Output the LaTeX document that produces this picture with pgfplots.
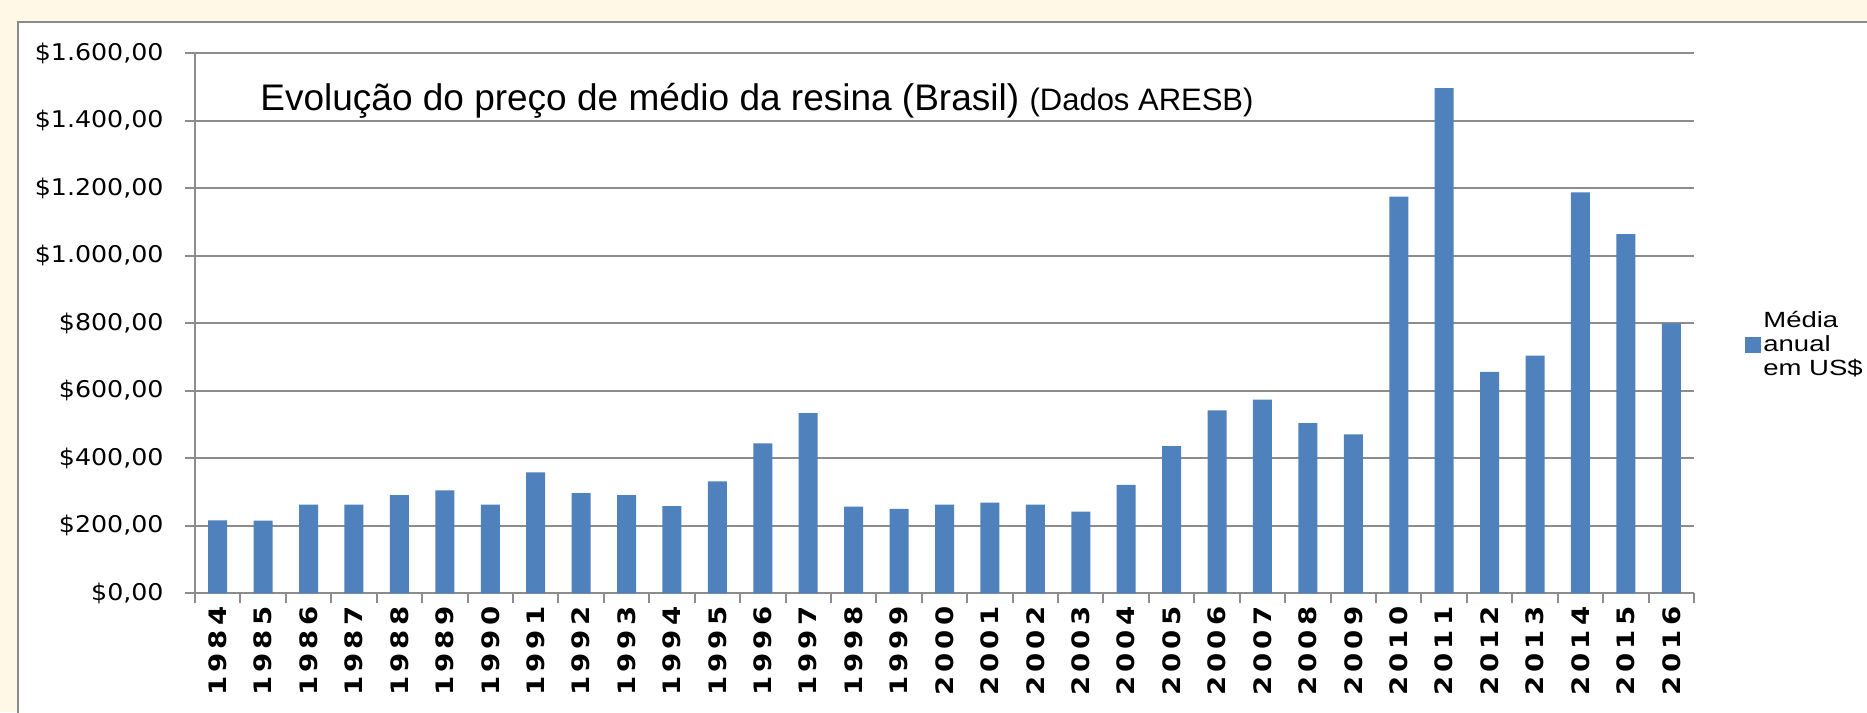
\documentclass[border=0pt]{standalone}
\usepackage{pgfplots}
\pgfplotsset{compat=1.18}
\usepackage{fontspec}
\setmainfont{Liberation Sans}
\newfontfamily\tickfont[FakeStretch=1.1]{DejaVu Sans}
\newfontfamily\yearfont[FakeStretch=1.15,LetterSpace=17]{DejaVu Sans}
\newfontfamily\legfont[FakeStretch=1.25]{Liberation Sans}
\definecolor{cream}{HTML}{FFF8E7}
\definecolor{panelgray}{HTML}{8A8A8A}
\definecolor{gridgray}{HTML}{8C8C8C}
\definecolor{barblue}{HTML}{4F81BD}
\begin{document}
\begin{tikzpicture}
\useasboundingbox (0,0) rectangle (933.5pt,356pt);
\clip (0,0) rectangle (933.5pt,356pt);
\fill[cream] (0,0) rectangle (933.5pt,356pt);
\filldraw[fill=white, draw=panelgray, line width=1pt] (9pt,-10pt) rectangle (950pt,345pt);
\begin{axis}[
  at={(97.5pt,59.35pt)}, anchor=south west,
  scale only axis, width=749.5pt, height=270pt,
  xmin=-0.5, xmax=32.5, ymin=0, ymax=1600, enlargelimits=false,
  axis x line*=bottom, axis y line*=left,
  axis line style={draw=gridgray, line width=1pt, -},
  ymajorgrids, grid style={draw=gridgray, line width=1pt},
  tick align=outside, major tick length=5pt,
  tick style={draw=gridgray, line width=1pt},
  ytick={0,200,...,1600},
  yticklabels={{\$0,00},{\$200,00},{\$400,00},{\$600,00},{\$800,00},{\$1.000,00},{\$1.200,00},{\$1.400,00},{\$1.600,00}},
  yticklabel style={font=\tickfont\fontsize{11.5pt}{13pt}\selectfont, text=black, anchor=east, inner sep=0pt, xshift=-10.5pt},
  xtick={-0.5,0.5,...,32.5}, xticklabels={},
  extra x ticks={0,1,...,32},
  extra x tick labels={1984,1985,1986,1987,1988,1989,1990,1991,1992,1993,1994,1995,1996,1997,1998,1999,2000,2001,2002,2003,2004,2005,2006,2007,2008,2009,2010,2011,2012,2013,2014,2015,2016},
  extra x tick style={tick style={draw=none}, xticklabel style={rotate=90, anchor=east, inner sep=0pt, text height=8.75pt, text depth=0pt, font=\yearfont\bfseries\fontsize{12pt}{14pt}\selectfont, xshift=-1.5pt}},
  legend style={at={(1.034,0.4607)}, anchor=west, draw=none, fill=none, inner sep=0pt, column sep=1pt, font=\legfont\fontsize{11pt}{12pt}\selectfont, nodes={inner sep=0pt, align=left}},
  legend cell align=left,
]
\addplot[ybar, bar width=9.5pt, fill=barblue, draw=none,
  legend image code/.code={\fill[barblue] (0pt,-4pt) rectangle (8pt,4pt);}]
  coordinates {
  (0,216) (1,215) (2,263) (3,263) (4,291) (5,305) (6,263) (7,358) (8,297) (9,291) (10,258)
  (11,332) (12,444) (13,534) (14,257) (15,250) (16,263) (17,269) (18,263) (19,242) (20,321)
  (21,436) (22,542) (23,574) (24,504) (25,471) (26,1175) (27,1497) (28,656) (29,704) (30,1188)
  (31,1064) (32,800)};
\addlegendentry{Média\\anual\\em US\$}
\end{axis}
\node[anchor=base west, inner sep=0pt] at (130pt,300.5pt) {\fontsize{18.5pt}{22pt}\selectfont Evolução do preço de médio da resina (Brasil) {\fontsize{15.5pt}{17pt}\selectfont (Dados ARESB)}};
\end{tikzpicture}
\end{document}
